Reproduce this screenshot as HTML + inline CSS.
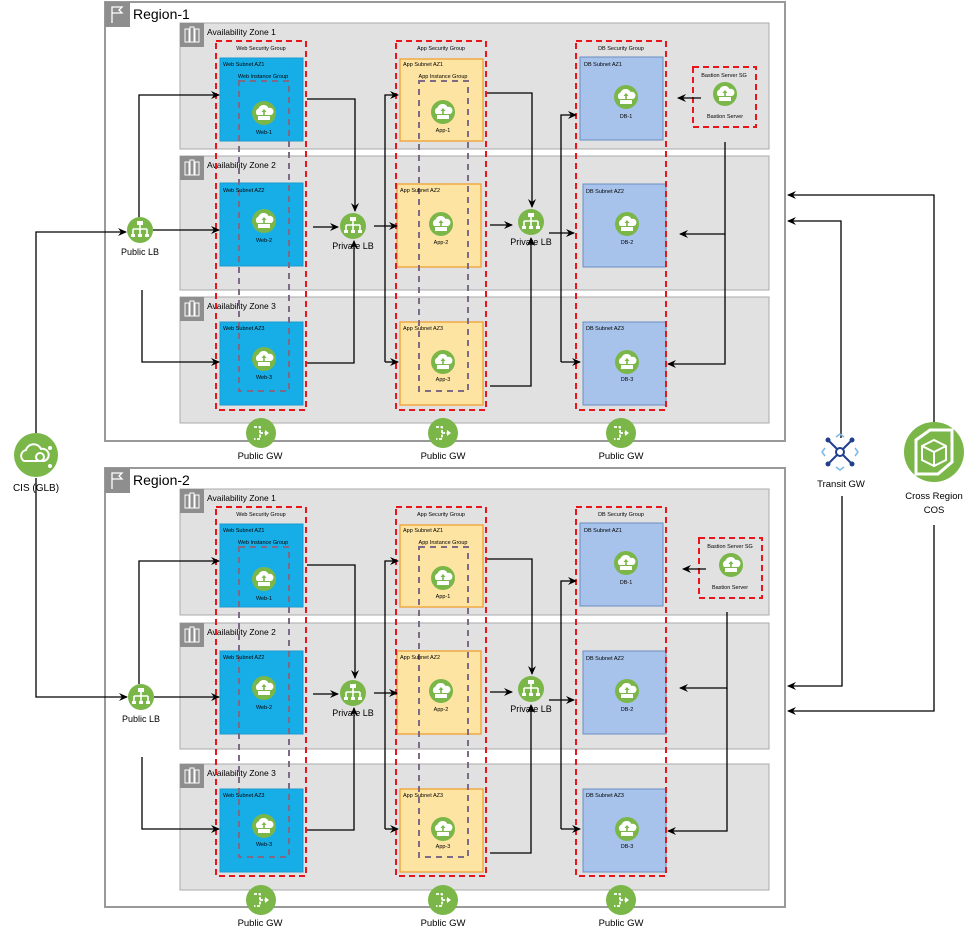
<!DOCTYPE html>
<html><head><meta charset="utf-8"><style>
html,body{margin:0;padding:0;background:#fff;}
svg{display:block;font-family:"Liberation Sans",Arial,sans-serif;}
</style></head><body>
<svg width="972" height="933" viewBox="0 0 972 933" xmlns="http://www.w3.org/2000/svg">
<defs>
<marker id="a" markerWidth="10" markerHeight="10" refX="8" refY="4" orient="auto" markerUnits="userSpaceOnUse"><path d="M0,0 L9,4 L0,8 L3,4 z" fill="#000"/></marker>
<g id="ic"><circle r="12" fill="#7ab648"/><path d="M-7,2 a4,4 0 0 1 1.5,-6.5 a5.5,5.5 0 0 1 10,-0.5 a3.5,3.5 0 0 1 2.5,7 z" fill="#fff"/><rect x="-6" y="3" width="12" height="4" fill="#fff"/><path d="M0,-4 L-2.5,-1 L2.5,-1 z M-0.8,-1 h1.6 v3 h-1.6z" fill="#7ab648"/></g>
<g id="lb"><circle r="13" fill="#7ab648"/><rect x="-3" y="-9" width="6" height="4" fill="#fff"/><path d="M0,-5 v4 M-7,-1 h14 M-7,-1 v5 M0,-1 v5 M7,-1 v5" stroke="#fff" stroke-width="1.6" fill="none"/><rect x="-9" y="4" width="4" height="3" fill="#fff"/><rect x="-2" y="4" width="4" height="3" fill="#fff"/><rect x="5" y="4" width="4" height="3" fill="#fff"/></g>
<g id="gw"><circle r="15" fill="#7ab648"/><path d="M-7,-6 h6 v12 h-6 M-1,0 h5" stroke="#fff" stroke-width="1.8" fill="none" stroke-dasharray="3 1.5"/><path d="M4,-3 L8,0 L4,3z" fill="#fff"/></g>
<g id="az"><rect width="24" height="24" fill="#8e8e8e"/><path d="M5,6 h4 v13 h-4z M10,4 h4 v15 h-4z M15,6 h4 v13 h-4z" fill="none" stroke="#fff" stroke-width="1"/></g>
</defs>

<!-- REGION 1 -->
<g>
<rect x="105" y="2" width="680" height="439" fill="#fff" stroke="#999" stroke-width="2"/>
<rect x="105" y="2" width="25" height="25" fill="#8e8e8e"/>
<path d="M112,23 V7 h10 l-3,3 3,3 h-10" fill="none" stroke="#fff" stroke-width="1.3"/>
<text x="133" y="19" font-size="14">Region-1</text>
<rect x="180" y="23" width="589" height="126" fill="#e1e1e1" stroke="#aaa"/>
<rect x="180" y="156" width="589" height="134" fill="#e1e1e1" stroke="#aaa"/>
<rect x="180" y="297" width="589" height="126" fill="#e1e1e1" stroke="#aaa"/>
<use href="#az" x="180" y="23"/><use href="#az" x="180" y="156"/><use href="#az" x="180" y="297"/>
<text x="207" y="35" font-size="8.5">Availability Zone 1</text>
<text x="207" y="168" font-size="8.5">Availability Zone 2</text>
<text x="207" y="309" font-size="8.5">Availability Zone 3</text>
<rect x="220" y="58" width="83" height="83" fill="#17aee8" stroke="#1b9ccf"/>
<rect x="220" y="183" width="83" height="83" fill="#17aee8" stroke="#1b9ccf"/>
<rect x="220" y="322" width="83" height="83" fill="#17aee8" stroke="#1b9ccf"/>
<rect x="400" y="59" width="83" height="82" fill="#fee4a2" stroke="#f0a030" stroke-width="1.3"/>
<rect x="397" y="184" width="84" height="83" fill="#fee4a2" stroke="#f0a030" stroke-width="1.3"/>
<rect x="400" y="322" width="83" height="83" fill="#fee4a2" stroke="#f0a030" stroke-width="1.3"/>
<rect x="580" y="57" width="83" height="83" fill="#a7c3eb" stroke="#6c8ebf"/>
<rect x="583" y="184" width="83" height="83" fill="#a7c3eb" stroke="#6c8ebf"/>
<rect x="583" y="322" width="83" height="83" fill="#a7c3eb" stroke="#6c8ebf"/>
<g fill="none" stroke="#e8151a" stroke-width="2" stroke-dasharray="6 4">
<rect x="216" y="41" width="90" height="369"/><rect x="396" y="41" width="90" height="369"/><rect x="576" y="41" width="90" height="369"/>
<rect x="693" y="67" width="63" height="60"/></g>
<g fill="none" stroke="#7d6a84" stroke-width="2" stroke-dasharray="6 5">
<rect x="239" y="81" width="50" height="310"/><rect x="419" y="81" width="49" height="310"/></g>
<g font-size="5.5" text-anchor="middle">
<text x="261" y="50">Web Security Group</text><text x="441" y="50">App Security Group</text><text x="621" y="50">DB Security Group</text>
<text x="263" y="78">Web Instance Group</text><text x="443" y="78">App Instance Group</text>
<text x="724" y="77">Bastion Server SG</text><text x="725" y="118">Bastion Server</text>
<text x="264" y="134">Web-1</text><text x="264" y="242">Web-2</text><text x="264" y="379">Web-3</text>
<text x="443" y="132">App-1</text><text x="441" y="244">App-2</text><text x="443" y="381">App-3</text>
<text x="626" y="118">DB-1</text><text x="627" y="244">DB-2</text><text x="627" y="381">DB-3</text>
</g>
<g font-size="5.5">
<text x="223" y="66">Web Subnet AZ1</text><text x="223" y="192">Web Subnet AZ2</text><text x="223" y="330">Web Subnet AZ3</text>
<text x="403" y="66">App Subnet AZ1</text><text x="400" y="192">App Subnet AZ2</text><text x="403" y="330">App Subnet AZ3</text>
<text x="584" y="66">DB Subnet AZ1</text><text x="586" y="193">DB Subnet AZ2</text><text x="586" y="330">DB Subnet AZ3</text>
</g>
<use href="#ic" x="264" y="113"/><use href="#ic" x="264" y="221"/><use href="#ic" x="264" y="359"/>
<use href="#ic" x="443" y="112"/><use href="#ic" x="441" y="224"/><use href="#ic" x="443" y="362"/>
<use href="#ic" x="626" y="97"/><use href="#ic" x="627" y="224"/><use href="#ic" x="627" y="362"/>
<use href="#ic" x="725" y="94"/>
<use href="#lb" x="140" y="230"/><use href="#lb" x="353" y="226"/><use href="#lb" x="531" y="222"/>
<g font-size="9" text-anchor="middle"><text x="140" y="255">Public LB</text><text x="353" y="249">Private LB</text><text x="531" y="245">Private LB</text></g>
<use href="#gw" x="261" y="433"/><use href="#gw" x="443" y="433"/><use href="#gw" x="621" y="433"/>
<g font-size="9.5" text-anchor="middle"><text x="260" y="459">Public GW</text><text x="443" y="459">Public GW</text><text x="621" y="459">Public GW</text></g>
<g fill="none" stroke="#000" stroke-width="1.3" marker-end="url(#a)">
<path d="M139,217 V95 H219"/><path d="M153,230 H219"/><path d="M142,290 V362 H219"/>
<path d="M307,99 H355 V211"/><path d="M313,227 H338"/><path d="M307,363 H354 V241"/>
<path d="M374,226 H397"/><path d="M385,362 V95 H398"/><path d="M385,362 H398"/>
<path d="M487,93 H532 V207"/><path d="M490,225 H512"/><path d="M490,386 H531 V238"/>
<path d="M549,233 H574"/><path d="M561,362 V115 H576"/><path d="M561,362 H580"/>
<path d="M701,98 H678"/><path d="M725,142 V234 H680"/><path d="M725,234 V364 H668"/>
</g>
</g>

<!-- REGION 2 -->
<g transform="translate(0,466)">
<rect x="105" y="2" width="680" height="439" fill="#fff" stroke="#999" stroke-width="2"/>
<rect x="105" y="2" width="25" height="25" fill="#8e8e8e"/>
<path d="M112,23 V7 h10 l-3,3 3,3 h-10" fill="none" stroke="#fff" stroke-width="1.3"/>
<text x="133" y="19" font-size="14">Region-2</text>
<rect x="180" y="23" width="589" height="126" fill="#e1e1e1" stroke="#aaa"/>
<rect x="180" y="157" width="589" height="126" fill="#e1e1e1" stroke="#aaa"/>
<rect x="180" y="298" width="589" height="126" fill="#e1e1e1" stroke="#aaa"/>
<use href="#az" x="180" y="23"/><use href="#az" x="180" y="157"/><use href="#az" x="180" y="298"/>
<text x="207" y="35" font-size="8.5">Availability Zone 1</text>
<text x="207" y="169" font-size="8.5">Availability Zone 2</text>
<text x="207" y="310" font-size="8.5">Availability Zone 3</text>
<rect x="220" y="58" width="83" height="83" fill="#17aee8" stroke="#1b9ccf"/>
<rect x="220" y="185" width="83" height="83" fill="#17aee8" stroke="#1b9ccf"/>
<rect x="220" y="323" width="83" height="83" fill="#17aee8" stroke="#1b9ccf"/>
<rect x="400" y="59" width="83" height="82" fill="#fee4a2" stroke="#f0a030" stroke-width="1.3"/>
<rect x="397" y="185" width="84" height="83" fill="#fee4a2" stroke="#f0a030" stroke-width="1.3"/>
<rect x="400" y="323" width="83" height="83" fill="#fee4a2" stroke="#f0a030" stroke-width="1.3"/>
<rect x="580" y="57" width="83" height="83" fill="#a7c3eb" stroke="#6c8ebf"/>
<rect x="583" y="185" width="83" height="83" fill="#a7c3eb" stroke="#6c8ebf"/>
<rect x="583" y="323" width="83" height="83" fill="#a7c3eb" stroke="#6c8ebf"/>
<g fill="none" stroke="#e8151a" stroke-width="2" stroke-dasharray="6 4">
<rect x="216" y="41" width="90" height="369"/><rect x="396" y="41" width="90" height="369"/><rect x="576" y="41" width="90" height="369"/>
<rect x="699" y="72" width="63" height="60"/></g>
<g fill="none" stroke="#7d6a84" stroke-width="2" stroke-dasharray="6 5">
<rect x="239" y="81" width="50" height="310"/><rect x="419" y="81" width="49" height="310"/></g>
<g font-size="5.5" text-anchor="middle">
<text x="261" y="50">Web Security Group</text><text x="441" y="50">App Security Group</text><text x="621" y="50">DB Security Group</text>
<text x="263" y="78">Web Instance Group</text><text x="443" y="78">App Instance Group</text>
<text x="730" y="82">Bastion Server SG</text><text x="730" y="123">Bastion Server</text>
<text x="264" y="134">Web-1</text><text x="264" y="243">Web-2</text><text x="264" y="380">Web-3</text>
<text x="443" y="132">App-1</text><text x="441" y="245">App-2</text><text x="443" y="382">App-3</text>
<text x="626" y="118">DB-1</text><text x="627" y="245">DB-2</text><text x="627" y="382">DB-3</text>
</g>
<g font-size="5.5">
<text x="223" y="66">Web Subnet AZ1</text><text x="223" y="193">Web Subnet AZ2</text><text x="223" y="331">Web Subnet AZ3</text>
<text x="403" y="66">App Subnet AZ1</text><text x="400" y="193">App Subnet AZ2</text><text x="403" y="331">App Subnet AZ3</text>
<text x="584" y="66">DB Subnet AZ1</text><text x="586" y="194">DB Subnet AZ2</text><text x="586" y="331">DB Subnet AZ3</text>
</g>
<use href="#ic" x="264" y="113"/><use href="#ic" x="264" y="222"/><use href="#ic" x="264" y="360"/>
<use href="#ic" x="443" y="112"/><use href="#ic" x="441" y="225"/><use href="#ic" x="443" y="363"/>
<use href="#ic" x="626" y="97"/><use href="#ic" x="627" y="225"/><use href="#ic" x="627" y="363"/>
<use href="#ic" x="731" y="99"/>
<use href="#lb" x="141" y="231"/><use href="#lb" x="353" y="227"/><use href="#lb" x="531" y="223"/>
<g font-size="9" text-anchor="middle"><text x="141" y="256">Public LB</text><text x="353" y="250">Private LB</text><text x="531" y="246">Private LB</text></g>
<use href="#gw" x="261" y="434"/><use href="#gw" x="443" y="434"/><use href="#gw" x="621" y="434"/>
<g font-size="9.5" text-anchor="middle"><text x="260" y="460">Public GW</text><text x="443" y="460">Public GW</text><text x="621" y="460">Public GW</text></g>
<g fill="none" stroke="#000" stroke-width="1.3" marker-end="url(#a)">
<path d="M139,218 V95 H219"/><path d="M154,231 H219"/><path d="M142,291 V363 H219"/>
<path d="M307,99 H355 V212"/><path d="M313,228 H338"/><path d="M307,364 H354 V242"/>
<path d="M374,227 H397"/><path d="M385,363 V95 H398"/><path d="M385,363 H398"/>
<path d="M487,93 H532 V208"/><path d="M490,226 H512"/><path d="M490,387 H531 V239"/>
<path d="M549,234 H574"/><path d="M561,363 V115 H576"/><path d="M561,363 H580"/>
<path d="M706,103 H683"/><path d="M727,146 V222 H680"/><path d="M727,222 V365 H668"/>
</g>
</g>

<!-- CIS -->
<g fill="none" stroke="#000" stroke-width="1.3" marker-end="url(#a)">
<path d="M36,433 V232 H126"/><path d="M36,478 V697 H127"/>
<path d="M841,438 V221 H788"/><path d="M934,422 V195 H788"/>
<path d="M842,496 V686 H788"/><path d="M934,525 V711 H788"/>
</g>
<circle cx="36" cy="455" r="22" fill="#7ab648"/>
<path d="M24,461 a6,6 0 0 1 2,-11 a8,8 0 0 1 15,-1 a6,6 0 0 1 3,12 z" fill="none" stroke="#fff" stroke-width="2"/>
<circle cx="40" cy="457" r="4" fill="none" stroke="#fff" stroke-width="2"/>
<circle cx="50" cy="448" r="2" fill="#fff"/><circle cx="50" cy="466" r="2" fill="#fff"/>
<text x="36" y="491" font-size="10" text-anchor="middle">CIS (GLB)</text>
<!-- Transit GW -->
<g stroke="#1f3f8f" stroke-width="2" fill="none">
<path d="M828,440 L852,464 M852,440 L828,464"/><circle cx="840" cy="452" r="4" fill="#fff"/></g>
<g fill="#1f3f8f"><circle cx="828" cy="440" r="2.5"/><circle cx="852" cy="440" r="2.5"/><circle cx="828" cy="464" r="2.5"/><circle cx="852" cy="464" r="2.5"/></g>
<g stroke="#7ab8e8" stroke-width="1.5" fill="none"><path d="M836,437 l4,-3 4,3 M836,467 l4,3 4,-3 M825,448 l-3,4 3,4 M855,448 l3,4 -3,4"/></g>
<text x="841" y="487" font-size="9.5" text-anchor="middle">Transit GW</text>
<!-- COS -->
<circle cx="934" cy="452" r="30" fill="#7ab648"/>
<path d="M916,440 L930,430 H952 V462 L938,474 H916 Z" fill="none" stroke="#fff" stroke-width="3"/>
<path d="M922,446 L934,440 L946,446 L946,460 L934,466 L922,460 Z M922,446 L934,452 L946,446 M934,452 V466" fill="none" stroke="#fff" stroke-width="2"/>
<text x="934" y="499" font-size="9.5" text-anchor="middle">Cross Region</text>
<text x="934" y="513" font-size="9.5" text-anchor="middle">COS</text>
</svg>
</body></html>
